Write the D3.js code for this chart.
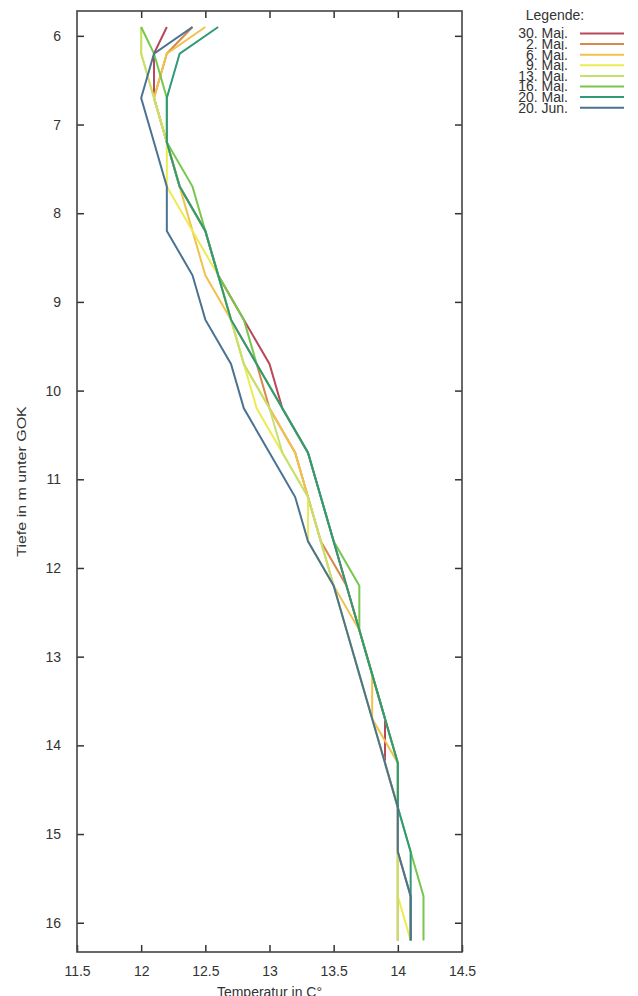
<!DOCTYPE html>
<html>
<head>
<meta charset="utf-8">
<script src="https://cdn.jsdelivr.net/npm/d3@7"></script>
<style>
  body { margin: 0; background: #fff; }
  text { font-family: "Liberation Sans", Arial, sans-serif; fill: #333; }
</style>
</head>
<body>
<svg width="638" height="996"></svg>
<script>
const svg = d3.select("svg");

// depths of the readings (m unter GOK)
const depths = [5.9, 6.2, 6.7, 7.2, 7.7, 8.2, 8.7, 9.2, 9.7, 10.2, 10.7, 11.2, 11.7, 12.2, 12.7, 13.2, 13.7, 14.2, 14.7, 15.2, 15.7, 16.2];

const labels = ["30. Mai.", "2. Mai.", "6. Mai.", "9. Mai.", "13. Mai.", "16. Mai.", "20. Mai.", "20. Jun."];
const colors = ["#b8485a", "#d8884c", "#f0c24c", "#ecec52", "#c6e070", "#78c64e", "#2f9a76", "#4a7292"];

const mai30 = [12.2, 12.1, 12.1, 12.2, 12.3, 12.5, 12.6, 12.8, 13.0, 13.1, 13.3, 13.4, 13.5, 13.6, 13.7, 13.8, 13.9, 13.9, 14.0, 14.0, 14.0, 14.0];
const mai2  = [12.4, 12.2, 12.1, 12.2, 12.3, 12.5, 12.6, 12.7, 12.9, 13.0, 13.2, 13.3, 13.4, 13.6, 13.7, 13.8, 13.9, 14.0, 14.0, 14.0, 14.1, 14.1];
const mai6  = [12.5, 12.2, 12.1, 12.2, 12.3, 12.4, 12.5, 12.7, 12.8, 13.0, 13.2, 13.3, 13.4, 13.5, 13.7, 13.8, 13.8, 14.0, 14.0, 14.0, 14.0, 14.0];
const mai9  = [12.0, 12.0, 12.1, 12.2, 12.2, 12.4, 12.6, 12.7, 12.8, 12.9, 13.1, 13.3, 13.3, 13.5, 13.6, 13.7, 13.8, 13.9, 14.0, 14.0, 14.0, 14.1];
const mai13 = [12.0, 12.0, 12.1, 12.2, 12.3, 12.5, 12.6, 12.7, 12.8, 13.0, 13.1, 13.3, 13.4, 13.5, 13.6, 13.7, 13.8, 13.9, 14.0, 14.0, 14.0, 14.0];
const mai16 = [12.0, 12.1, 12.2, 12.2, 12.4, 12.5, 12.6, 12.8, 12.9, 13.1, 13.3, 13.4, 13.5, 13.7, 13.7, 13.8, 13.9, 14.0, 14.0, 14.1, 14.2, 14.2];
const mai20 = [12.6, 12.3, 12.2, 12.2, 12.3, 12.5, 12.6, 12.7, 12.9, 13.1, 13.3, 13.4, 13.5, 13.6, 13.7, 13.8, 13.9, 14.0, 14.0, 14.1, 14.1, 14.1];
const jun20 = [12.4, 12.1, 12.0, 12.1, 12.2, 12.2, 12.4, 12.5, 12.7, 12.8, 13.0, 13.2, 13.3, 13.5, 13.6, 13.7, 13.8, 13.9, 14.0, 14.0, 14.1, 14.1];

const series = [mai30, mai2, mai6, mai9, mai13, mai16, mai20, jun20];

const xTicks = [11.5, 12, 12.5, 13, 13.5, 14, 14.5];
const yTicks = [6, 7, 8, 9, 10, 11, 12, 13, 14, 15, 16];

const margin = { top: 11, left: 77, right: 176, bottom: 44 };
const width = 638, height = 996;
const innerWidth = width - margin.left - margin.right;
const innerHeight = height - margin.top - margin.bottom;

const xScale = d3.scaleLinear().domain([11.5, 14.5]).range([0, innerWidth]);
const yScale = d3.scaleLinear().domain([5.72, 16.33]).range([0, innerHeight]);

const g = svg.append("g")
    .attr("transform", `translate(${margin.left}, ${margin.top})`);

// inward ticks on all four sides (gnuplot style)
const tk = 7;
const axisStyle = sel => {
    sel.select(".domain").remove();
    sel.selectAll(".tick line").attr("stroke", "#333").attr("stroke-width", 1.5);
    sel.selectAll(".tick text").attr("font-size", 14).attr("fill", "#333")
        .attr("font-family", "Liberation Sans, Arial, sans-serif");
};

g.append("g")
    .attr("transform", `translate(0, ${innerHeight})`)
    .call(d3.axisBottom(xScale).tickValues(xTicks).tickFormat(d3.format("")).tickSizeInner(-tk).tickPadding(14))
    .call(axisStyle);

// mirrored ticks, no labels
g.append("g")
    .call(d3.axisTop(xScale).tickValues(xTicks.slice(1, -1)).tickSizeInner(-tk))
    .call(axisStyle)
    .selectAll(".tick text").remove();

g.append("g")
    .call(d3.axisLeft(yScale).tickValues(yTicks).tickFormat(d3.format("")).tickSizeInner(-tk).tickPadding(16))
    .call(axisStyle);

g.append("g")
    .attr("transform", `translate(${innerWidth}, 0)`)
    .call(d3.axisRight(yScale).tickValues(yTicks).tickSizeInner(-tk))
    .call(axisStyle)
    .selectAll(".tick text").remove();

// frame
g.append("rect")
    .attr("width", innerWidth)
    .attr("height", innerHeight)
    .attr("fill", "none")
    .attr("stroke", "#444")
    .attr("stroke-width", 1.6);

// profiles
const line = d3.line()
    .x(d => xScale(d[0]))
    .y(d => yScale(d[1]));

g.selectAll(".profile").data(series)
    .enter().append("path")
        .attr("class", "profile")
        .attr("d", s => line(s.map((t, i) => [t, depths[i]])))
        .attr("fill", "none")
        .attr("stroke", (s, i) => colors[i])
        .attr("stroke-width", 2)
        .attr("stroke-linejoin", "miter");

// axis titles
svg.append("text")
    .attr("transform", `translate(26, ${margin.top + innerHeight / 2}) rotate(-90) scale(1, 0.82)`)
    .attr("text-anchor", "middle")
    .attr("font-size", 16)
    .text("Tiefe in m unter GOK");

svg.append("text")
    .attr("x", margin.left + innerWidth / 2)
    .attr("y", 997)
    .attr("text-anchor", "middle")
    .attr("font-size", 14)
    .text("Temperatur in C°");

// legend
const legend = svg.append("g");
legend.append("text")
    .attr("x", 555).attr("y", 20)
    .attr("text-anchor", "middle")
    .attr("font-size", 14)
    .text("Legende:");

const rows = legend.selectAll(".row").data(labels)
    .enter().append("g")
        .attr("class", "row")
        .attr("transform", (d, i) => `translate(0, ${33.5 + i * 10.6})`);

rows.append("text")
    .attr("x", 568).attr("y", 4.8)
    .attr("text-anchor", "end")
    .attr("font-size", 14)
    .text(d => d);

rows.append("line")
    .attr("x1", 580).attr("x2", 624)
    .attr("stroke", (d, i) => colors[i])
    .attr("stroke-width", 2);
</script>
</body>
</html>
